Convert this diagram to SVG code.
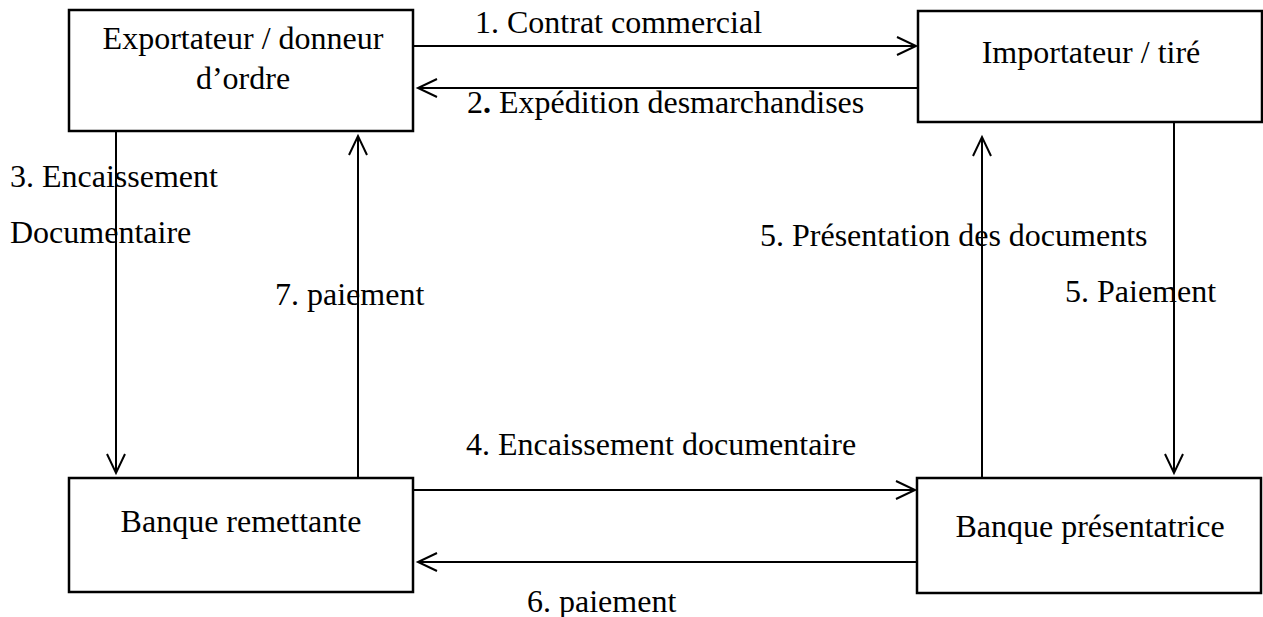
<svg xmlns="http://www.w3.org/2000/svg" width="1263" height="617" viewBox="0 0 1263 617">
<style>
  .box { fill: #fff; stroke: #000; stroke-width: 2.5; }
  .t { font-family: "Liberation Serif", "Times New Roman", serif; font-size: 32px; fill: #000; }
  .c { text-anchor: middle; }
  .ln { stroke: #000; stroke-width: 2; fill: none; marker-end: url(#arr); }
</style>
<defs>
  <marker id="arr" markerUnits="userSpaceOnUse" markerWidth="24" markerHeight="24" refX="20" refY="10" orient="auto" viewBox="0 0 24 24">
    <path d="M1,1 L20,10 L1,19" fill="none" stroke="#000" stroke-width="2"/>
  </marker>
</defs>
<rect width="1263" height="617" fill="#fff"/>
<g id="connectors">
  <line class="ln" x1="413" y1="46" x2="916" y2="46"/>
  <line class="ln" x1="918" y1="88" x2="418" y2="88"/>
  <line class="ln" x1="116" y1="131" x2="116" y2="473"/>
  <line class="ln" x1="358" y1="478" x2="358" y2="136"/>
  <line class="ln" x1="413" y1="490" x2="915" y2="490"/>
  <line class="ln" x1="917" y1="562" x2="418" y2="562"/>
  <line class="ln" x1="982" y1="478" x2="982" y2="137"/>
  <line class="ln" x1="1174" y1="122" x2="1174" y2="473"/>
</g>
<g id="labels">
  <text class="t" x="475" y="33">1. Contrat commercial</text>
  <text class="t" x="467" y="113">2<tspan font-weight="bold">.</tspan> Expédition desmarchandises</text>
  <text class="t" x="10" y="187">3. Encaissement</text>
  <text class="t" x="10" y="243">Documentaire</text>
  <text class="t" x="275" y="305">7. paiement</text>
  <text class="t" x="760" y="246">5. Présentation des documents</text>
  <text class="t" x="1065" y="302">5. Paiement</text>
  <text class="t" x="466" y="455">4. Encaissement documentaire</text>
  <text class="t" x="527" y="612">6. paiement</text>
</g>
<g id="exportateur">
  <rect class="box" x="69" y="10" width="344" height="121"/>
  <text class="t c" x="243" y="49">Exportateur / donneur</text>
  <text class="t c" x="243" y="89">d’ordre</text>
</g>
<g id="importateur">
  <rect class="box" x="918" y="11" width="344" height="111"/>
  <text class="t c" x="1091" y="63">Importateur / tiré</text>
</g>
<g id="banque-remettante">
  <rect class="box" x="69" y="478" width="344" height="114"/>
  <text class="t c" x="241" y="532">Banque remettante</text>
</g>
<g id="banque-presentatrice">
  <rect class="box" x="917" y="478" width="344" height="115"/>
  <text class="t c" x="1090" y="537">Banque présentatrice</text>
</g>
</svg>
